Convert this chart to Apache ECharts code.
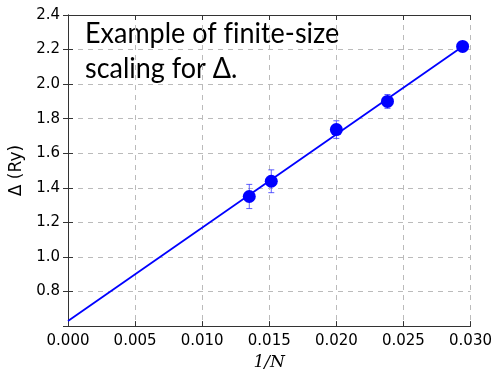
<!DOCTYPE html>
<html>
<head>
<meta charset="utf-8">
<script src="https://cdn.jsdelivr.net/npm/echarts@6/dist/echarts.min.js"></script>
<style>
  html, body { margin: 0; padding: 0; background: #fff; }
  #main { width: 495px; height: 376px; }
</style>
</head>
<body>
<div id="main"></div>
<script>
// 1/N values and measured gap
var invN = [0.01351, 0.01515, 0.0200, 0.02381, 0.02941];
var gap = [1.35, 1.438, 1.737, 1.90, 2.218];
var gapErr = [0.07, 0.066, 0.051, 0.04, 0.02];
// linear fit line endpoints
var fitX = [0, 0.02941];
var fitY = [0.629, 2.218];

var chart = echarts.init(document.getElementById('main'));

var pts = invN.map(function (x, i) { return [x, gap[i]]; });
var errs = invN.map(function (x, i) { return [x, gap[i] - gapErr[i], gap[i] + gapErr[i]]; });
var fit = fitX.map(function (x, i) { return [x, fitY[i]]; });

var tickFont = { fontFamily: 'DejaVu Sans', fontSize: 15, color: '#000' };
var gridLine = { show: true, lineStyle: { color: '#bbb', type: [5, 5], width: 1 } };

chart.setOption({
  animation: false,
  grid: { left: 63, right: 23, top: 15, bottom: 44 },
  graphic: [{
    type: 'text',
    x: 85,
    y: 16,
    scaleX: 0.93,
    style: {
      // ZWNJ keeps "f" and "i" apart (no ligature)
      text: 'Example of f\u200Cinite-size\nscaling for Δ.',
      font: '29px Lato',
      lineHeight: 35,
      fill: '#000'
    }
  }],
  xAxis: [{
    type: 'value', min: 0, max: 0.03, interval: 0.005,
    name: '1/N', nameLocation: 'middle', nameGap: 24,
    nameTextStyle: { fontFamily: 'DejaVu Serif', fontStyle: 'italic', fontSize: 17, color: '#000' },
    axisLine: { show: true, lineStyle: { color: '#333' } },
    axisTick: { show: true, inside: true, length: 5, lineStyle: { color: '#333' } },
    axisLabel: Object.assign({ formatter: function (v) { return v.toFixed(3); }, margin: 8 }, tickFont),
    splitLine: gridLine
  }, {
    type: 'value', min: 0, max: 0.03, interval: 0.005, position: 'top',
    axisLine: { show: true, lineStyle: { color: '#333' } },
    axisTick: { show: true, inside: true, length: 5, lineStyle: { color: '#333' } },
    axisLabel: { show: false }, splitLine: { show: false }
  }],
  yAxis: [{
    type: 'value', min: 0.6, max: 2.4, interval: 0.2,
    name: 'Δ (Ry)', nameLocation: 'middle', nameGap: 43,
    nameTextStyle: { fontFamily: 'DejaVu Sans', fontSize: 17, color: '#000' },
    axisLine: { show: true, lineStyle: { color: '#333' } },
    axisTick: { show: true, inside: true, length: 5, lineStyle: { color: '#333' } },
    axisLabel: Object.assign({
      showMinLabel: false,
      formatter: function (v) { return v.toFixed(1); }, margin: 8
    }, tickFont),
    splitLine: gridLine
  }, {
    type: 'value', min: 0.6, max: 2.4, interval: 0.2, position: 'right',
    axisLine: { show: true, lineStyle: { color: '#333' } },
    axisTick: { show: true, inside: true, length: 5, lineStyle: { color: '#333' } },
    axisLabel: { show: false }, splitLine: { show: false }
  }],
  series: [
    {
      type: 'line',
      data: fit,
      symbol: 'none',
      lineStyle: { color: '#0000ff', width: 1.8 },
      z: 2
    },
    {
      type: 'custom',
      data: errs,
      z: 3,
      renderItem: function (params, api) {
        var x = api.value(0);
        var lo = api.coord([x, api.value(1)]);
        var hi = api.coord([x, api.value(2)]);
        var c = 3;
        var st = { stroke: 'rgba(40,40,255,0.75)', lineWidth: 1 };
        return {
          type: 'group',
          children: [
            { type: 'line', shape: { x1: lo[0], y1: lo[1], x2: hi[0], y2: hi[1] }, style: st },
            { type: 'line', shape: { x1: lo[0] - c, y1: lo[1], x2: lo[0] + c, y2: lo[1] }, style: st },
            { type: 'line', shape: { x1: hi[0] - c, y1: hi[1], x2: hi[0] + c, y2: hi[1] }, style: st }
          ]
        };
      }
    },
    {
      type: 'scatter',
      data: pts,
      symbol: 'circle',
      symbolSize: 13,
      itemStyle: { color: '#0000ff', opacity: 1 },
      z: 4
    }
  ]
});
</script>
</body>
</html>
